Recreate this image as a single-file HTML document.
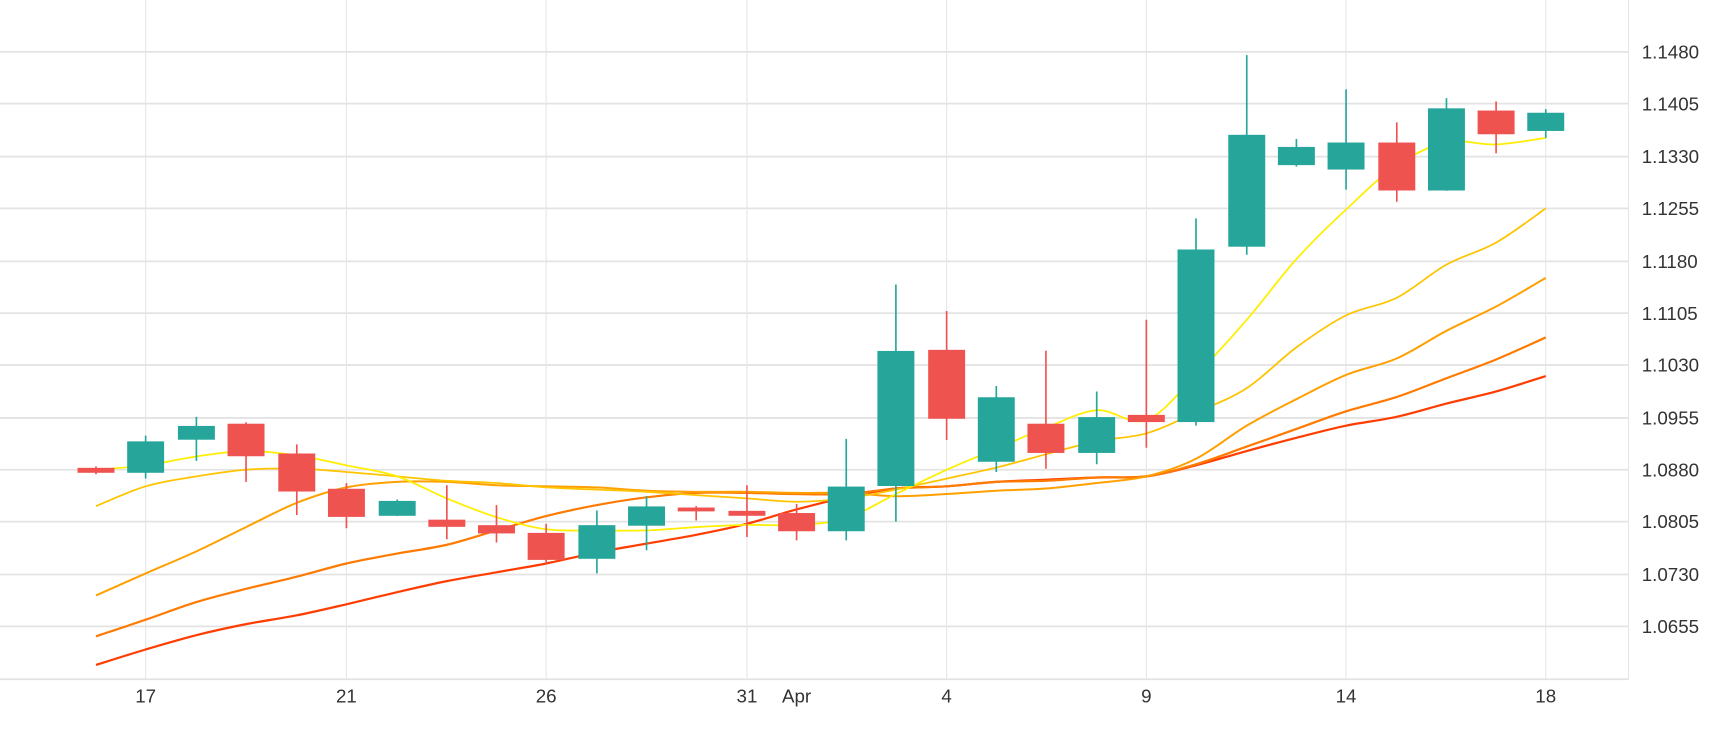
<!DOCTYPE html>
<html><head><meta charset="utf-8"><style>
html,body{margin:0;padding:0;background:#fff;}
svg{display:block;}
text{font-family:"Liberation Sans",sans-serif;font-size:17px;fill:#333;}
</style></head><body>
<svg id="c" width="1730" height="730" viewBox="0 0 1568 662" preserveAspectRatio="none" xmlns="http://www.w3.org/2000/svg">
<g stroke="#e3e3e3" stroke-width="1.6">
<line x1="0" y1="47" x2="1476" y2="47"/><line x1="0" y1="94" x2="1476" y2="94"/><line x1="0" y1="142" x2="1476" y2="142"/><line x1="0" y1="189" x2="1476" y2="189"/><line x1="0" y1="237" x2="1476" y2="237"/><line x1="0" y1="284" x2="1476" y2="284"/><line x1="0" y1="331" x2="1476" y2="331"/><line x1="0" y1="379" x2="1476" y2="379"/><line x1="0" y1="426" x2="1476" y2="426"/><line x1="0" y1="473" x2="1476" y2="473"/><line x1="0" y1="521" x2="1476" y2="521"/><line x1="0" y1="568" x2="1476" y2="568"/>
<line x1="0" y1="616" x2="1476" y2="616"/>
</g>
<g stroke="#e6e6e6" stroke-width="1">
<line x1="132" y1="0" x2="132" y2="616"/><line x1="314" y1="0" x2="314" y2="616"/><line x1="495" y1="0" x2="495" y2="616"/><line x1="677" y1="0" x2="677" y2="616"/><line x1="858" y1="0" x2="858" y2="616"/><line x1="1039" y1="0" x2="1039" y2="616"/><line x1="1220" y1="0" x2="1220" y2="616"/><line x1="1401" y1="0" x2="1401" y2="616"/>
<line x1="1476" y1="0" x2="1476" y2="616"/>
</g>
<g>
<text x="1488" y="53">1.1480</text><text x="1488" y="100">1.1405</text><text x="1488" y="148">1.1330</text><text x="1488" y="195">1.1255</text><text x="1488" y="243">1.1180</text><text x="1488" y="290">1.1105</text><text x="1488" y="337">1.1030</text><text x="1488" y="385">1.0955</text><text x="1488" y="432">1.0880</text><text x="1488" y="479">1.0805</text><text x="1488" y="527">1.0730</text><text x="1488" y="574">1.0655</text>
</g>
<g text-anchor="middle">
<text x="132" y="637">17</text><text x="314" y="637">21</text><text x="495" y="637">26</text><text x="677" y="637">31</text><text x="722" y="637">Apr</text><text x="858" y="637">4</text><text x="1039" y="637">9</text><text x="1220" y="637">14</text><text x="1401" y="637">18</text>
</g>
<g id="lines" fill="none" stroke-width="2" stroke-linejoin="round">
<polyline stroke="#ff3d00" points="87,603 132,589 178,576 223,566 269,558 314,548 360,537 405,527 450,519 495,511 541,501 586,493 631,485 677,475 722,462 767,451 812,443 858,441 903,437 948,435 994,433 1039,432 1084,422 1130,409 1175,397 1220,386 1266,378 1311,366 1356,355 1401,341"/>
<polyline stroke="#ff7a00" points="87,577 132,562 178,546 223,534 269,523 314,511 360,502 405,494 450,481 495,468 541,458 586,451 631,447 677,447 722,448 767,448 812,443 858,441 903,437 948,436 994,433 1039,432 1084,421 1130,405 1175,389 1220,373 1266,360 1311,343 1356,326 1401,306"/>
<polyline stroke="#ffa000" stroke-width="1.8" points="87,540 132,520 178,500 223,478 269,456 314,442 360,437 405,437 450,440 495,441 541,442 586,445 631,446 677,446 722,447 767,447 812,450 858,448 903,445 948,443 994,438 1039,432 1084,416 1130,386 1175,362 1220,340 1266,325 1311,300 1356,278 1401,252"/>
<polyline stroke="#ffc400" stroke-width="1.6" points="87,459 132,441 178,432 223,426 269,425 314,428 360,432 405,436 450,438 495,442 541,444 586,446 631,449 677,452 722,455 767,452 812,444 858,434 903,424 948,412 994,400 1039,393 1084,374 1130,352 1175,315 1220,286 1266,270 1311,240 1356,220 1401,189"/>
<polyline stroke="#ffee00" stroke-width="1.6" points="87,426 132,422 178,414 223,409 269,413 314,422 360,432 405,452 450,469 495,480 541,481 586,481 631,478 677,476 722,476 767,470 812,448 858,426 903,407 948,388 994,372 1039,381 1084,340 1130,290 1175,235 1220,190 1266,150 1311,129 1356,131 1401,125"/>
</g>
<g stroke-width="1.5">
<g stroke="#26a69a" fill="#26a69a">
<line x1="132" y1="395" x2="132" y2="434"/><rect x="116" y="401" width="32" height="27"/>
<line x1="178" y1="378" x2="178" y2="418"/><rect x="162" y="387" width="32" height="11"/>
<line x1="360" y1="453" x2="360" y2="468"/><rect x="344" y="455" width="32" height="12"/>
<line x1="541" y1="463" x2="541" y2="520"/><rect x="525" y="477" width="32" height="29"/>
<line x1="586" y1="450" x2="586" y2="499"/><rect x="570" y="460" width="32" height="16"/>
<line x1="767" y1="398" x2="767" y2="490"/><rect x="751" y="442" width="32" height="39"/>
<line x1="812" y1="258" x2="812" y2="473"/><rect x="796" y="319" width="32" height="121"/>
<line x1="903" y1="350" x2="903" y2="428"/><rect x="887" y="361" width="32" height="57"/>
<line x1="994" y1="355" x2="994" y2="421"/><rect x="978" y="379" width="32" height="31"/>
<line x1="1084" y1="198" x2="1084" y2="386"/><rect x="1068" y="227" width="32" height="155"/>
<line x1="1130" y1="50" x2="1130" y2="231"/><rect x="1114" y="123" width="32" height="100"/>
<line x1="1175" y1="126" x2="1175" y2="151"/><rect x="1159" y="134" width="32" height="15"/>
<line x1="1220" y1="81" x2="1220" y2="172"/><rect x="1204" y="130" width="32" height="23"/>
<line x1="1311" y1="89" x2="1311" y2="173"/><rect x="1295" y="99" width="32" height="73"/>
<line x1="1401" y1="99" x2="1401" y2="125"/><rect x="1385" y="103" width="32" height="15"/>
</g>
<g stroke="#ef5350" fill="#ef5350">
<line x1="87" y1="423" x2="87" y2="430"/><rect x="71" y="425" width="32" height="3"/>
<line x1="223" y1="383" x2="223" y2="437"/><rect x="207" y="385" width="32" height="28"/>
<line x1="269" y1="403" x2="269" y2="467"/><rect x="253" y="412" width="32" height="33"/>
<line x1="314" y1="438" x2="314" y2="479"/><rect x="298" y="444" width="32" height="24"/>
<line x1="405" y1="440" x2="405" y2="489"/><rect x="389" y="472" width="32" height="5"/>
<line x1="450" y1="458" x2="450" y2="492"/><rect x="434" y="477" width="32" height="6"/>
<line x1="495" y1="475" x2="495" y2="512"/><rect x="479" y="484" width="32" height="23"/>
<line x1="631" y1="459" x2="631" y2="472"/><rect x="615" y="461" width="32" height="2"/>
<line x1="677" y1="440" x2="677" y2="487"/><rect x="661" y="464" width="32" height="3"/>
<line x1="722" y1="457" x2="722" y2="490"/><rect x="706" y="466" width="32" height="15"/>
<line x1="858" y1="282" x2="858" y2="399"/><rect x="842" y="318" width="32" height="61"/>
<line x1="948" y1="318" x2="948" y2="425"/><rect x="932" y="385" width="32" height="25"/>
<line x1="1039" y1="290" x2="1039" y2="406"/><rect x="1023" y="377" width="32" height="5"/>
<line x1="1266" y1="111" x2="1266" y2="183"/><rect x="1250" y="130" width="32" height="42"/>
<line x1="1356" y1="92" x2="1356" y2="139"/><rect x="1340" y="101" width="32" height="20"/>
</g>
</g>
</svg>
<script>
(function(){
var ns="http://www.w3.org/2000/svg";
document.querySelectorAll('#lines polyline').forEach(function(pl){
var p=pl.getAttribute('points').trim().split(/\s+/).map(function(s){return s.split(',').map(Number);});
var d='M'+p[0][0]+','+p[0][1];
for(var i=0;i<p.length-1;i++){
var p0=p[i-1]||p[i],p1=p[i],p2=p[i+1],p3=p[i+2]||p2;
var c1x=p1[0]+(p2[0]-p0[0])/6,c1y=p1[1]+(p2[1]-p0[1])/6;
var c2x=p2[0]-(p3[0]-p1[0])/6,c2y=p2[1]-(p3[1]-p1[1])/6;
d+=' C'+c1x+','+c1y+' '+c2x+','+c2y+' '+p2[0]+','+p2[1];
}
var path=document.createElementNS(ns,'path');
path.setAttribute('d',d);
path.setAttribute('stroke',pl.getAttribute('stroke'));
if(pl.getAttribute('stroke-width'))path.setAttribute('stroke-width',pl.getAttribute('stroke-width'));
pl.parentNode.replaceChild(path,pl);
});
})();
</script>
</body></html>
